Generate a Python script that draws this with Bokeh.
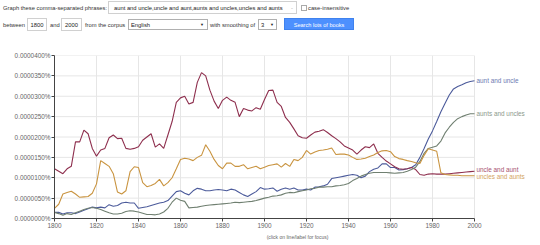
from bokeh.plotting import figure
from bokeh.models import Range1d, FixedTicker, CustomJSTickFormatter, ColumnDataSource, Div, Title
from bokeh.layouts import column
from bokeh.core.properties import value
from bokeh.embed import file_html
from bokeh.resources import INLINE

# ---------------- data (values in units of 0.0000001 %) ----------------
YEARS = list(range(1800, 2001, 2))

AUNT_AND_UNCLE = [15, 15, 11, 14, 14, 12, 16, 20, 24, 28, 26, 28, 26, 34, 30, 32, 38, 40, 38, 38,
                  25, 27, 29, 32, 35, 38, 40, 44, 55, 66, 68, 62, 58, 68, 74, 72, 68, 68, 70, 71,
                  70, 68, 72, 70, 64, 58, 54, 60, 66, 76, 72, 73, 75, 67, 72, 75, 72, 75, 70, 70,
                  72, 70, 77, 78, 80, 84, 98, 100, 102, 104, 106, 108, 106, 100, 104, 115, 121, 124, 134, 134,
                  125, 125, 119, 120, 122, 125, 132, 150, 172, 195, 215, 238, 262, 283, 303, 318, 324, 328, 333, 336,
                  338]

UNCLE_AND_AUNT = [122, 116, 110, 122, 128, 188, 188, 217, 208, 172, 153, 168, 172, 198, 205, 196, 197, 172, 170, 172,
                  176, 192, 200, 208, 175, 183, 172, 205, 238, 285, 296, 300, 281, 285, 334, 358, 350, 315, 288, 270,
                  290, 298, 290, 285, 250, 270, 266, 264, 272, 268, 292, 314, 315, 285, 275, 248, 236, 220, 203, 198,
                  197, 205, 212, 214, 218, 211, 203, 196, 188, 178, 173, 168, 158, 168, 176, 174, 183, 160, 150, 141,
                  134, 127, 122, 121, 122, 125, 120, 108, 106, 109, 110, 109, 109, 109, 110, 111, 112, 113, 114, 115,
                  116]

AUNTS_AND_UNCLES = [15, 12, 8, 12, 10, 14, 18, 22, 25, 27, 25, 22, 18, 14, 11, 11, 13, 17, 19, 18,
                    16, 13, 10, 10, 9, 11, 16, 25, 40, 50, 45, 42, 26, 27, 28, 30, 32, 33, 34, 35,
                    36, 37, 38, 40, 39, 40, 41, 42, 44, 47, 50, 52, 55, 56, 58, 62, 64, 63, 66, 68,
                    70, 73, 74, 77, 77, 78, 78, 80, 81, 83, 86, 93, 98, 104, 108, 111, 113, 113, 113, 113,
                    112, 111, 112, 113, 116, 120, 126, 140, 160, 172, 175, 178, 190, 210, 224, 236, 245, 250, 254, 257,
                    257]

UNCLES_AND_AUNTS = [25, 35, 60, 64, 67, 60, 52, 53, 54, 62, 85, 142, 135, 128, 110, 65, 60, 68, 115, 127,
                    125, 88, 78, 81, 86, 96, 80, 88, 100, 122, 145, 148, 146, 142, 150, 155, 181, 165, 145, 130,
                    122, 136, 136, 128, 128, 132, 122, 125, 128, 122, 126, 130, 132, 134, 126, 135, 128, 145, 142, 150,
                    167, 158, 163, 167, 168, 170, 173, 157, 158, 158, 156, 150, 145, 146, 148, 152, 156, 162, 166, 167,
                    164, 152, 147, 145, 142, 140, 137, 135, 155, 171, 168, 165, 112, 108, 107, 106, 106, 105, 105, 105,
                    105]

SERIES_NAMES = ["aunt and uncle", "uncle and aunt", "aunts and uncles", "uncles and aunts"]
SERIES_VALUES = [AUNT_AND_UNCLE, UNCLE_AND_AUNT, AUNTS_AND_UNCLES, UNCLES_AND_AUNTS]
LINE_COLORS = ["#4c5b9b", "#8e2f4e", "#6f7f70", "#c99440"]
LABEL_COLORS = ["#6d7ab2", "#a85470", "#8c998c", "#d3a55f"]
LABEL_DY = [0, -2, 0, 1]

Y_TICKS = list(range(0, 401, 50))
X_TICKS = list(range(1800, 2001, 20))

PHRASES = ",".join(SERIES_NAMES)
YEAR_FROM, YEAR_TO = "1800", "2000"
CORPUS = "English"
SMOOTHING = "3"

# ---------------- header (form controls, as HTML) ----------------
FONT_CSS = "font-family:'Liberation Sans',Arial,sans-serif;"

def span(x, yc, s, size=5.8, color="#333333", align="left", weight="normal"):
    h = 8
    if align == "center":
        pos = f"left:{x - 60}px;width:120px;text-align:center;"
    else:
        pos = f"left:{x}px;"
    return (f"<span style='position:absolute;{pos}top:{yc - h / 2}px;line-height:{h}px;"
            f"font-size:{size}px;color:{color};white-space:nowrap;font-weight:{weight};{FONT_CSS}'>{s}</span>")

def rect(l, r, t, b, fill="#ffffff", line="#d0d0d0"):
    return (f"<div style='position:absolute;box-sizing:border-box;left:{l}px;top:{t}px;width:{r - l}px;"
            f"height:{b - t}px;background:{fill};border:1px solid {line};'></div>")

parts = []
parts.append(span(3, 7.5, "Graph these comma-separated phrases:"))
parts.append(rect(108, 297, 1, 14))
parts.append(span(114, 7.5, PHRASES, color="#222222"))
parts.append(span(291, 7.5, "-", color="#aaaaaa"))
parts.append(rect(301, 307, 4.5, 10.5, line="#aaaaaa"))
parts.append(span(308, 7.5, "case-insensitive"))
ry = 24.5
parts.append(span(3, ry, "between"))
parts.append(rect(27, 47, 18, 31))
parts.append(span(37, ry, YEAR_FROM, color="#222222", align="center"))
parts.append(span(50, ry, "and"))
parts.append(rect(61, 82, 18, 31))
parts.append(span(71.5, ry, YEAR_TO, color="#222222", align="center"))
parts.append(span(85, ry, "from the corpus"))
parts.append(rect(128, 208, 19, 30, line="#b0b0b0"))
parts.append(span(131, ry, CORPUS, color="#222222"))
parts.append(span(202, ry, "&#9660;", size=4, color="#222222", align="center"))
parts.append(span(210, ry, "with smoothing of"))
parts.append(rect(258, 277, 19, 30, line="#b0b0b0"))
parts.append(span(261, ry, SMOOTHING, color="#222222"))
parts.append(span(272, ry, "&#9660;", size=4, color="#222222", align="center"))
parts.append(rect(284, 354, 18, 30, fill="#4d90fe", line="#3f82ee"))
parts.append(span(319, ry, "Search lots of books", size=5.6, color="#ffffff", align="center"))

header = Div(text="<div style='position:relative;width:540px;height:36px;margin:0;padding:0;'>"
                  + "".join(parts) + "</div>",
             width=540, height=36, margin=0)

# ---------------- chart ----------------
PX_PER_YEAR = 420 / (X_TICKS[-1] - X_TICKS[0])
X_END = X_TICKS[-1] + 66 / PX_PER_YEAR   # room at right for the series labels

p = figure(width=540, height=209, x_range=Range1d(X_TICKS[0], X_END), y_range=Range1d(Y_TICKS[0], Y_TICKS[-1]),
           output_backend="svg", toolbar_location=None, margin=0,
           min_border_left=54, min_border_right=0, min_border_top=19, min_border_bottom=27)
p.outline_line_color = None
p.background_fill_color = "#ffffff"

# horizontal grid lines only across the year span
p.segment(x0=[X_TICKS[0]] * len(Y_TICKS), x1=[X_TICKS[-1]] * len(Y_TICKS), y0=Y_TICKS, y1=Y_TICKS,
          line_color="#e6e6e6", line_width=1)
p.ygrid.visible = False
p.xgrid.ticker = FixedTicker(ticks=X_TICKS)
p.xgrid.grid_line_color = "#e6e6e6"

for name, vals, lc in zip(SERIES_NAMES, SERIES_VALUES, LINE_COLORS):
    src = ColumnDataSource(dict(x=YEARS, y=vals))
    p.line("x", "y", source=src, line_color=lc, line_width=1.1)

lab = ColumnDataSource(dict(x=[YEARS[-1]] * len(SERIES_NAMES), y=[v[-1] for v in SERIES_VALUES],
                            text=SERIES_NAMES, color=LABEL_COLORS, dy=LABEL_DY))
p.text("x", "y", text="text", source=lab, text_color="color", x_offset=2, y_offset="dy",
       text_font=value("Liberation Sans"), text_font_size="6.4px", text_baseline="middle", text_align="left")

p.xaxis.ticker = FixedTicker(ticks=X_TICKS)
p.yaxis.ticker = FixedTicker(ticks=Y_TICKS)
p.xaxis.bounds = (X_TICKS[0], X_TICKS[-1])
p.yaxis.formatter = CustomJSTickFormatter(code="return (tick * 1e-7).toFixed(7) + '%';")
for ax in (p.xaxis, p.yaxis):
    ax.axis_line_color = "#444444"
    ax.axis_line_width = 1
    ax.major_tick_line_color = "#444444"
    ax.major_tick_out = 3
    ax.major_tick_in = 0
    ax.minor_tick_line_color = None
    ax.major_label_text_font = "Liberation Sans"
    ax.major_label_text_font_size = "6.4px"
    ax.major_label_text_color = "#666666"
    ax.major_label_standoff = 1

note = Title(text="(click on line/label for focus)", align="center", offset=-33,
             text_font="Liberation Sans", text_font_size="5px", text_font_style="normal",
             text_color="#666666", standoff=2)
p.add_layout(note, "below")

layout = column(header, p, spacing=0)
open("out.html", "w").write(file_html(layout, INLINE))
